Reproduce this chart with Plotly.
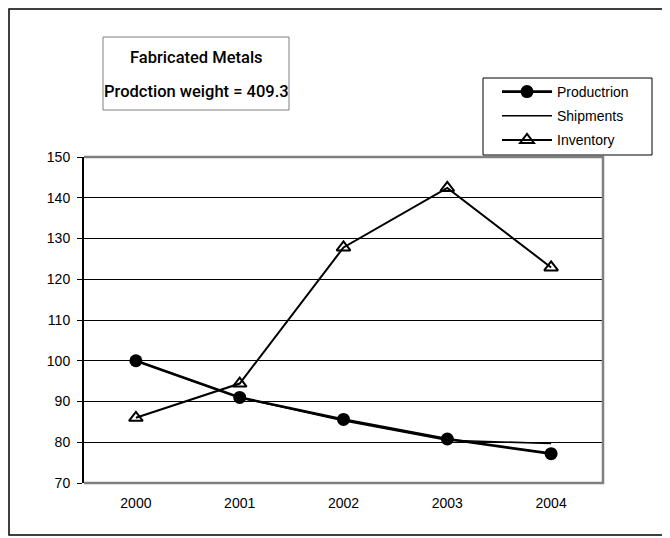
import plotly.graph_objects as go

years = ["2000", "2001", "2002", "2003", "2004"]
production = [100.0, 91.0, 85.6, 80.8, 77.2]
shipments = [100.0, 91.0, 85.3, 80.5, 79.7]
inventory = [86.0, 94.4, 127.8, 142.4, 122.9]
y_ticks = [70, 80, 90, 100, 110, 120, 130, 140, 150]
title_lines = ["Fabricated Metals", "Prodction weight = 409.3"]

# page has an 8px body margin, so figure coords = screen coords - 8
OFF = 8
W, H = 662, 530
L, T = 84 - OFF, 157 - OFF
PW, PH = 519, 326
R, B = W - L - PW, H - T - PH


def px(sx):
    return (sx - OFF - L) / PW


def py(sy):
    return (H - B - (sy - OFF)) / PH


FONT = "Liberation Sans, Arial, sans-serif"
TFONT = dict(family="Roboto, Liberation Sans, sans-serif", size=16.5,
             color="black", weight=500)

fig = go.Figure()
fig.add_trace(go.Scatter(
    x=years, y=shipments, name="Shipments", mode="lines",
    line=dict(color="black", width=1.6), legendgroup="b", legendrank=2))
fig.add_trace(go.Scatter(
    x=years, y=production, name="Productrion", mode="lines+markers",
    line=dict(color="black", width=2.6),
    marker=dict(symbol="circle", size=13, color="black"),
    legendgroup="a", legendrank=1))
fig.add_trace(go.Scatter(
    x=years, y=inventory, name="Inventory", mode="lines+markers",
    line=dict(color="black", width=2),
    marker=dict(symbol="triangle-up-open", size=12, color="black",
                line=dict(width=2, color="black")),
    legendgroup="c", legendrank=3))

shapes = [
    # outer frame
    dict(type="rect", xref="paper", yref="paper", x0=px(9), x1=px(666),
         y0=py(535), y1=py(9), line=dict(color="black", width=1.5), layer="below"),
    # plot area border: top, right, bottom (gray)
    dict(type="path", xref="paper", yref="paper",
         path="M 0 1 L 1 1 L 1 0 L 0 0", line=dict(color="#808080", width=2.5),
         layer="above"),
    # title box
    dict(type="rect", xref="paper", yref="paper", x0=px(103), x1=px(289),
         y0=py(110), y1=py(37), line=dict(color="#808080", width=1),
         fillcolor="white", layer="above"),
    # legend box
    dict(type="rect", xref="paper", yref="paper", x0=px(483), x1=px(652),
         y0=py(155), y1=py(78), line=dict(color="black", width=1),
         fillcolor="white", layer="above"),
]

annotations = [
    dict(xref="paper", yref="paper", x=px(196), y=py(yc),
         xanchor="center", yanchor="middle", showarrow=False,
         text=txt, font=TFONT)
    for txt, yc in zip(title_lines, [57, 91])
]

fig.update_layout(
    width=W, height=H,
    margin=dict(l=L, r=R, t=T, b=B),
    paper_bgcolor="white", plot_bgcolor="white",
    font=dict(family=FONT, size=13, color="black"),
    showlegend=True,
    legend=dict(
        x=px(497), y=py(76), xanchor="left", yanchor="top",
        borderwidth=0, bgcolor="rgba(0,0,0,0)",
        font=dict(family=FONT, size=14, color="black"),
        traceorder="grouped", tracegroupgap=3, itemwidth=50,
    ),
    shapes=shapes,
    annotations=annotations,
)
fig.update_xaxes(
    type="category", range=[-0.5, 4.5], showgrid=False, zeroline=False,
    showline=False, ticks="", ticklabelstandoff=10,
    tickfont=dict(family=FONT, size=14, color="black"),
)
fig.update_yaxes(
    range=[70, 150], tickvals=y_ticks, showgrid=True, gridcolor="black",
    gridwidth=1, zeroline=False, showline=True, linecolor="black", linewidth=2,
    ticks="outside", ticklen=5, tickcolor="black", tickwidth=1,
    ticklabelstandoff=4,
    tickfont=dict(family=FONT, size=14, color="black"),
)

fig.write_html("out.html")
